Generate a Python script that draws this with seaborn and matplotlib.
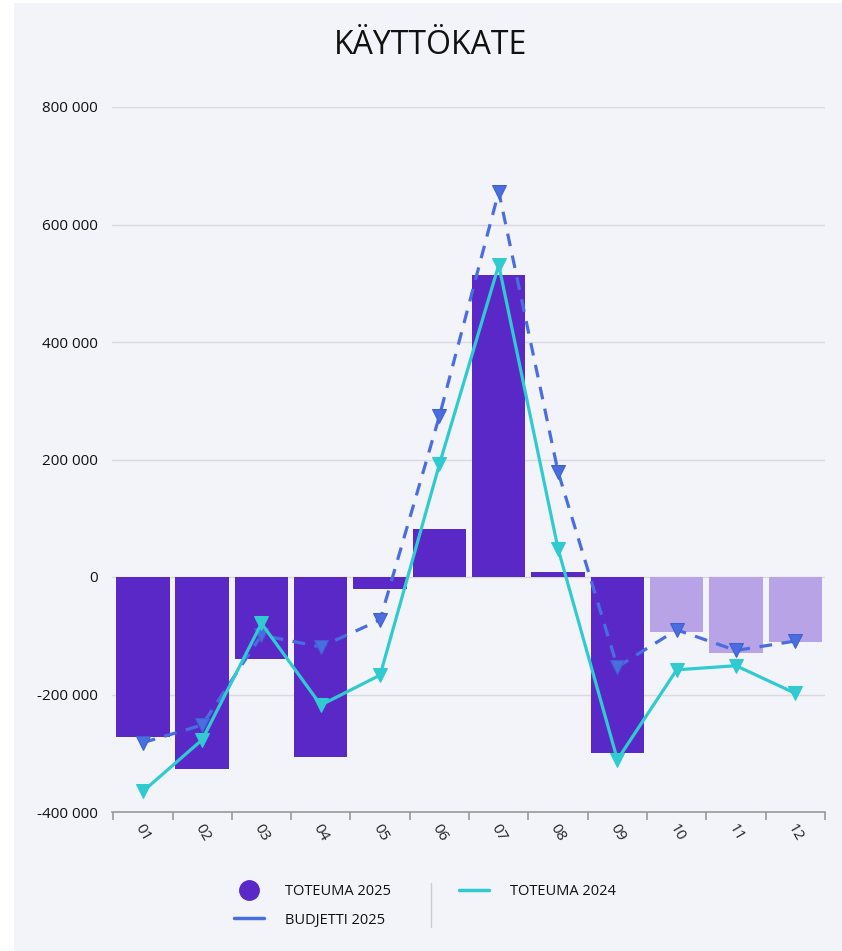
import numpy as np
import pandas as pd
import matplotlib.pyplot as plt
import seaborn as sns
from matplotlib.lines import Line2D
from matplotlib.patches import Rectangle
from matplotlib.ticker import FuncFormatter

months = ['01', '02', '03', '04', '05', '06', '07', '08', '09', '10', '11', '12']
toteuma_2025 = [-273000, -327000, -139000, -306000, -21000, 82000, 514000, 9000,
                -299000, -93000, -129000, -111000]
budjetti_2025 = [-282000, -252000, -99000, -119000, -73000, 274000, 656000, 179000,
                 -153000, -90000, -125000, -109000]
toteuma_2024 = [-365000, -277000, -79000, -218000, -167000, 192000, 531000, 48000,
                -311000, -158000, -151000, -198000]
forecast = [False] * 9 + [True] * 3

purple = '#5b28c8'
light_purple = '#b8a3e6'
blue = '#4a6ee0'
cyan = '#2fcbd0'
bg = '#f3f4f9'

df = pd.DataFrame({
    'month': months,
    'pos': np.arange(len(months)),
    'toteuma_2025': toteuma_2025,
    'budjetti_2025': budjetti_2025,
    'toteuma_2024': toteuma_2024,
})

sns.set_theme(style='white')
plt.rcParams['font.family'] = ['Open Sans', 'DejaVu Sans']

fig = plt.figure(figsize=(8.42, 9.51), dpi=100, facecolor='white')
fig.patches.append(Rectangle((14 / 842, 0), 1, 1 - 3 / 951, transform=fig.transFigure,
                             facecolor=bg, edgecolor='none', zorder=-5))
ax = fig.add_axes([112 / 842, 139 / 951, 713 / 842, 705 / 951])
ax.set_facecolor(bg)

bar_colors = [light_purple if f else purple for f in forecast]
sns.barplot(data=df, x='month', y='toteuma_2025', hue='month', palette=bar_colors,
            legend=False, width=0.9, saturation=1, linewidth=0, ax=ax, zorder=2)

sns.lineplot(data=df, x='pos', y='budjetti_2025', ax=ax, color=blue, lw=2.3,
             marker='v', markersize=10, markeredgecolor='#3f5fd0', zorder=3)
ax.lines[-1].set_dashes((4, 3))
sns.lineplot(data=df, x='pos', y='toteuma_2024', ax=ax, color=cyan, lw=2.3,
             marker='v', markersize=10, markeredgecolor=cyan, zorder=4)

ax.set_xlim(-0.52, 11.5)
ax.set_ylim(-400000, 800000)
ax.set_yticks([-400000, -200000, 0, 200000, 400000, 600000, 800000])
ax.yaxis.set_major_formatter(FuncFormatter(lambda v, p: f'{int(v):,}'.replace(',', ' ')))
ax.grid(axis='y', color='#d9dadf', lw=1, zorder=0)
ax.set_axisbelow(True)
ax.tick_params(axis='y', length=0, pad=10, labelsize=11, labelcolor='#111111')

ax.set_xticks(np.arange(12))
ax.set_xticklabels(months, rotation=-60, ha='center', fontsize=11, color='#222222')
ax.set_xticks(np.arange(-0.5, 12, 1), minor=True)
ax.tick_params(axis='x', which='major', length=0, pad=7)
ax.tick_params(axis='x', which='minor', length=6, width=1.2, color='#999999', bottom=True)
ax.set_xlabel('')
ax.set_ylabel('')
for s in ['top', 'right', 'left']:
    ax.spines[s].set_visible(False)
ax.spines['bottom'].set_color('#999999')
ax.spines['bottom'].set_linewidth(1.2)

fig.text(431 / 842, 1 - 46 / 951, 'KÄYTTÖKATE', ha='center', va='center',
         fontsize=23, color='#111111')

handles = [
    Line2D([], [], marker='o', color='none', markerfacecolor=purple,
           markeredgecolor=purple, markersize=14),
    Line2D([], [], color=blue, lw=2.5),
    Line2D([], [], color=cyan, lw=2.5),
]
labels = ['TOTEUMA 2025', 'BUDJETTI 2025', 'TOTEUMA 2024']
fig.legend(handles, labels, ncol=2, loc='center', bbox_to_anchor=(425 / 842, 1 - 906 / 951),
           frameon=False, fontsize=10.5, handlelength=2.05, columnspacing=4.7,
           handletextpad=1.4, labelspacing=0.9, labelcolor='#111111')
fig.add_artist(Line2D([431 / 842, 431 / 842], [1 - 883 / 951, 1 - 927 / 951],
                      color='#cccccc', lw=1, transform=fig.transFigure))

fig.savefig('out.png', dpi=100, facecolor=fig.get_facecolor())
